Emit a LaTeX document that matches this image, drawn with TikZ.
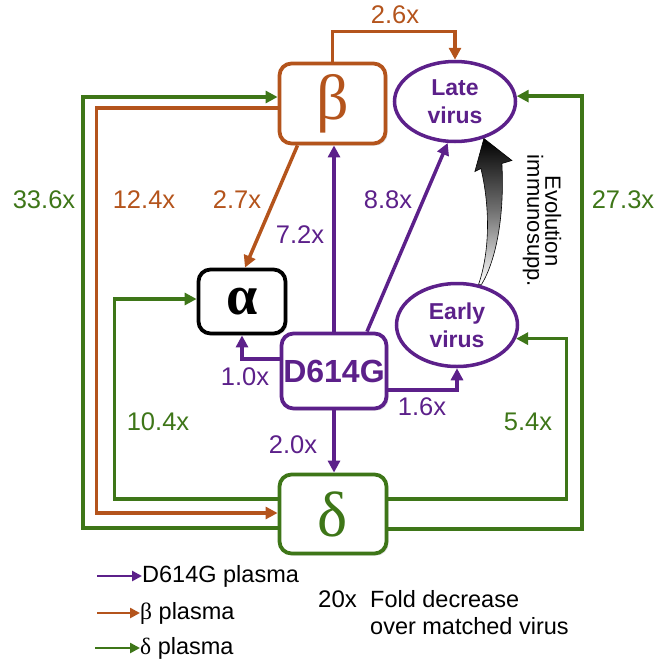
\documentclass[tikz,border=0pt]{standalone}
\usepackage{fontspec}
\setmainfont{Liberation Sans}
\newfontfamily\grk{Liberation Serif}
\usetikzlibrary{shapes.geometric,arrows.meta,calc,shadows}
\definecolor{cor}{HTML}{B4541C}
\definecolor{cpu}{HTML}{5C208A}
\definecolor{cgr}{HTML}{3E7618}
\begin{document}
\begin{tikzpicture}[x=1pt,y=-1pt,
  box/.style={rectangle, draw, rounded corners=12pt, line width=3.8pt, fill=white, inner sep=0pt,
    drop shadow={shadow xshift=2pt, shadow yshift=-2pt, opacity=0.25}},
  virus/.style={ellipse, draw=cpu, line width=3.5pt, inner sep=0pt, minimum width=121pt,
    align=center, text=cpu, font=\fontsize{23}{28}\selectfont\bfseries},
  conn/.style={line width=3.5pt, -{Triangle[length=12pt,width=12pt]}},
  legarrow/.style={line width=2.8pt, -{Triangle[length=10pt,width=10pt]}},
  lbl/.style={inner sep=0pt, font=\fontsize{25.5}{30}\selectfont},
  legtext/.style={inner sep=0pt, anchor=west, font=\fontsize{23.5}{27}\selectfont}]
\useasboundingbox (0,0) rectangle (664,664);

% nodes
\node[box, draw=cor, minimum width=106pt, minimum height=80pt] (beta) at (332.5,103.5)
  {\grk\fontsize{64}{64}\selectfont\color{cor}β};
\node[virus, minimum height=80pt] (late) at (455,101.5) {Late\\virus};
\node[virus, minimum height=83pt] (early) at (457,325) {Early\\virus};
\node[box, draw=black, minimum width=87pt, minimum height=64pt] (alpha) at (242,301.5)
  {\grk\bfseries\fontsize{56}{56}\selectfont α};
\node[box, draw=cpu, minimum width=105pt, minimum height=75pt, text=cpu,
  font=\fontsize{32}{34}\selectfont\bfseries] (d614) at (334,371) {D614G};
\node[box, draw=cgr, minimum width=107pt, minimum height=79pt] (delta) at (333,514)
  {\grk\fontsize{64}{64}\selectfont\color{cgr}δ};

% beta plasma
\draw[conn, cor] (beta.north) -- ++(0,-30) -| (late.north);
\draw[conn, cor] ([yshift=-4.5pt]beta.west) -- ++(-181,0) |- ([yshift=1pt]delta.west);
\draw[conn, cor] ([xshift=-35pt]beta.south) -- ([xshift=3pt]alpha.north);

% delta plasma
\draw[conn, cgr] ([yshift=-14pt]delta.west) -- ++(-194.5,0) |- ([yshift=6.5pt]beta.west);
\draw[conn, cgr] ([yshift=15pt]delta.west) -- ++(-163,0) |- ([yshift=2.5pt]alpha.west);
\draw[conn, cgr] ([yshift=15pt]delta.east) -- ++(178,0) |- (early.-13);
\draw[conn, cgr] ([yshift=-15pt]delta.east) -- ++(193.5,0) |- (late.5);

% D614G plasma
\draw[conn, cpu] (d614.north) -- (d614.north |- beta.south);
\draw[conn, cpu] ([xshift=33pt]d614.north) -- (late.-100);
\draw[conn, cpu] ([yshift=12pt]d614.west) -| (alpha.south);
\draw[conn, cpu] ([yshift=-19pt]d614.east) -| (early.south);
\draw[conn, cpu] (d614.south) -- (d614.south |- delta.north);

% evolution arrow
\coordinate (S) at (early.62);
\coordinate (T) at (late.-52);
\shade[top color=black, bottom color=white, middle color=black!55, draw=black, line width=0.6pt]
  (S) .. controls ($(S)+(12,-35)$) and ($(S)+(11,-80)$) .. ($(T)+(-3,30)$)
  -- ($(T)+(-9,33)$) -- (T) -- ($(T)+(28,22)$) -- ($(T)+(18,25)$)
  .. controls ($(S)+(26,-70)$) and ($(S)+(18,-25)$) .. ($(S)+(3,0)$) -- cycle;
\node[rotate=-90, align=center, inner sep=0pt, font=\fontsize{22}{18}\selectfont] (evo)
  at (542,221) {Evolution\\immunosupp.};

% labels
\node[lbl, text=cor] (l26) at (395,15) {2.6x};
\node[lbl, text=cgr] (l336) at (44,200) {33.6x};
\node[lbl, text=cor] (l124) at (144,200) {12.4x};
\node[lbl, text=cor] (l27) at (237,200) {2.7x};
\node[lbl, text=cpu] (l72) at (300,235) {7.2x};
\node[lbl, text=cpu] (l88) at (388,200) {8.8x};
\node[lbl, text=cgr] (l273) at (623,200) {27.3x};
\node[lbl, text=cpu] (l10) at (245,377) {1.0x};
\node[lbl, text=cgr] (l104) at (158,422) {10.4x};
\node[lbl, text=cpu] (l16) at (422,407) {1.6x};
\node[lbl, text=cgr] (l54) at (528,422) {5.4x};
\node[lbl, text=cpu] (l20) at (293,445) {2.0x};

% legend
\node[legtext] (lt1) at (142,576) {D614G plasma};
\node[legtext] (lt2) at (140,613) {{\grk β} plasma};
\node[legtext] (lt3) at (140,648) {{\grk δ} plasma};
\coordinate (lg1) at (97,576);
\coordinate (lg2) at (97,613);
\coordinate (lg3) at (95,648);
\draw[legarrow, cpu] (lg1) -- (lt1.west);
\draw[legarrow, cor] (lg2) -- (lt2.west);
\draw[legarrow, cgr] (lg3) -- (lt3.west);
\node[legtext, font=\fontsize{24}{27}\selectfont] (l20x) at (318,599) {20x};
\node[legtext, align=left] (fold) at (370,612.5) {Fold decrease\\over matched virus};
\end{tikzpicture}
\end{document}
